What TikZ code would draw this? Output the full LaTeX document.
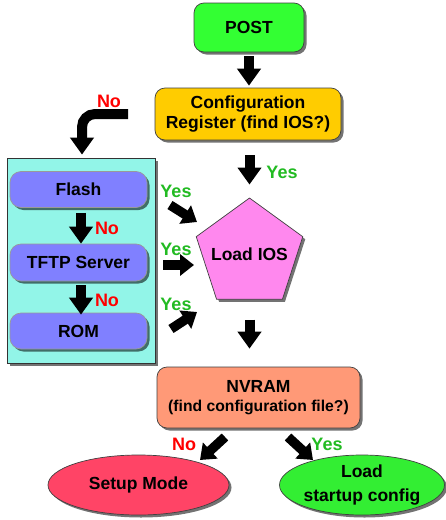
\documentclass[tikz,border=0pt]{standalone}
\usepackage{fontspec}
\setmainfont{Liberation Sans}
\usetikzlibrary{arrows.meta,shapes.geometric,shadows}
\definecolor{postgreen}{HTML}{33FF33}
\definecolor{cfggold}{HTML}{FFCC00}
\definecolor{cyanbox}{HTML}{92F5E8}
\definecolor{srcblue}{HTML}{8080FF}
\definecolor{iospink}{HTML}{FF88EE}
\definecolor{nvsalmon}{HTML}{FF9977}
\definecolor{setupred}{HTML}{FF4466}
\definecolor{loadgreen}{HTML}{33EE33}
\definecolor{yesgreen}{HTML}{22BB22}
\definecolor{nored}{HTML}{FF0000}
\tikzset{
  shad/.style={drop shadow={shadow xshift=2.5pt,shadow yshift=-2.5pt,opacity=0.55,fill=black}},
  boxnode/.style={draw=black!75,line width=0.7pt,rounded corners=10pt,shad,inner sep=0pt,align=center,
    font=\fontsize{17.5}{19.5}\selectfont\bfseries},
  srcnode/.style={boxnode,fill=srcblue,minimum width=137pt,rounded corners=11pt,draw=black!40},
  ellnode/.style={ellipse,draw=black!75,line width=0.7pt,shad,inner sep=0pt,align=center,
    font=\fontsize{17.5}{24}\selectfont\bfseries},
  blockarrow/.style={line width=10pt,draw=black,-{Triangle[width=23pt,length=17pt]}},
  smallarrow/.style={line width=9.5pt,draw=black,-{Triangle[width=21pt,length=14pt]}},
  yeslbl/.style={text=yesgreen,font=\fontsize{18}{18}\selectfont\bfseries,anchor=base,inner sep=0pt},
  nolbl/.style={text=nored,font=\fontsize{18}{18}\selectfont\bfseries,anchor=base,inner sep=0pt},
}
\begin{document}
\begin{tikzpicture}[x=1pt,y=-1pt]
\useasboundingbox[fill=white] (0,0) rectangle (446,520);
% container box
\node[draw=black!80,line width=0.8pt,fill=cyanbox,shad,minimum width=148pt,minimum height=205pt,inner sep=0pt] (cbox) at (81,260.5) {};
% nodes
\node[boxnode,fill=postgreen,minimum width=110pt,minimum height=49pt] (post) at (249,27.5) {POST};
\node[boxnode,fill=cfggold,minimum width=186pt,minimum height=52pt] (cfg) at (248,114) {Configuration\\Register (find IOS?)};
\node[srcnode,minimum height=36pt] (flash) at (78.5,189.5) {Flash};
\node[srcnode,minimum height=37pt] (tftp) at (78.5,262.5) {TFTP Server};
\node[srcnode,minimum height=36pt] (rom) at (78.5,331) {ROM};
\node[regular polygon,regular polygon sides=5,minimum size=112pt,inner sep=0pt,fill=iospink,draw=black!75,line width=0.7pt,shad] (ios) at (249.5,254) {};
\node[font=\fontsize{17.5}{19.5}\selectfont\bfseries,inner sep=0pt] (iostext) at (ios.center) {Load IOS};
\node[boxnode,fill=nvsalmon,minimum width=203pt,minimum height=61pt] (nvram) at (258.5,397.5)
  {NVRAM\\[-1pt]{\fontsize{15.7}{18}\selectfont (find configuration file?)}};
\node[ellnode,fill=setupred,minimum width=181pt,minimum height=60pt] (setup) at (138.5,485) {Setup Mode};
\node[ellnode,fill=loadgreen,minimum width=158pt,minimum height=60pt] (load) at (362,485) {Load\\startup config};
% helper coordinates
\coordinate (colx) at (81,0);
\coordinate (bend) at (82,114);
\coordinate (nostart) at (128,114);
% vertical arrows
\draw[blockarrow,shorten <=4pt,shorten >=2pt] (post.south) -- (post.south |- cfg.north);
\draw[blockarrow,shorten <=15pt,shorten >=13pt] (cfg.south -| ios.north) -- (ios.north);
\draw[blockarrow,shorten <=20pt,shorten >=18pt] (ios.center |- ios.corner 3) -- (ios.center |- nvram.north);
\draw[blockarrow,shorten <=5pt,shorten >=0pt] (flash.south -| colx) -- (tftp.north -| colx);
\draw[blockarrow,shorten <=4pt,shorten >=-2pt] (tftp.south -| colx) -- (rom.north -| colx);
% bent arrow
\draw[blockarrow,rounded corners=13pt,shorten >=3pt] (nostart) -- (bend) -- (bend |- cbox.north);
% yes arrows into Load IOS
\coordinate (y1s) at (170,205); \coordinate (y1e) at (197,222);
\coordinate (y2s) at (163,265); \coordinate (y2e) at (194,265);
\coordinate (y3s) at (171,329); \coordinate (y3e) at (197,312);
\draw[smallarrow] (y1s) -- (y1e);
\draw[smallarrow] (y2s) -- (y2e);
\draw[smallarrow] (y3s) -- (y3e);
% NVRAM outputs
\coordinate (ns) at (225,437); \coordinate (ne) at (200,460);
\coordinate (ys) at (288,437); \coordinate (ye) at (313,460);
\draw[smallarrow] (ns) -- (ne);
\draw[smallarrow] (ys) -- (ye);
% labels
\node[nolbl] (l1) at (109,107) {No};
\node[yeslbl] (l2) at (282,178) {Yes};
\node[yeslbl] (l3) at (176,197) {Yes};
\node[yeslbl] (l4) at (176,255) {Yes};
\node[yeslbl] (l5) at (176,310) {Yes};
\node[nolbl] (l6) at (107,234) {No};
\node[nolbl] (l7) at (107,306) {No};
\node[nolbl] (l8) at (184,450) {No};
\node[yeslbl] (l9) at (327,450) {Yes};
\end{tikzpicture}
\end{document}
